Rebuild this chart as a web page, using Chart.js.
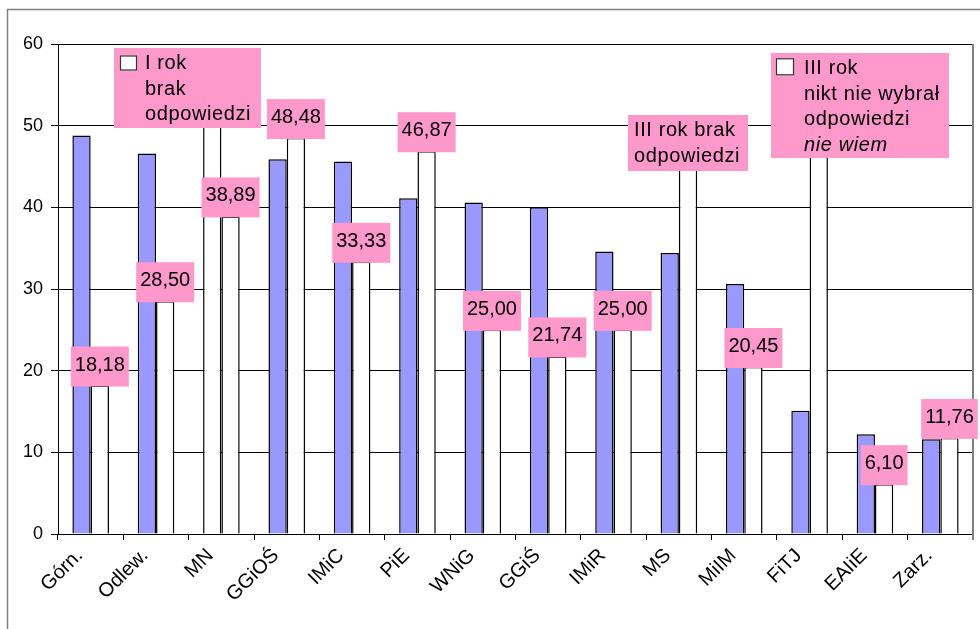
<!DOCTYPE html>
<html>
<head>
<meta charset="utf-8">
<script src="https://cdn.jsdelivr.net/npm/chart.js@4/dist/chart.umd.min.js"></script>
<style>
  html, body { margin: 0; padding: 0; background: #ffffff; }
  #wrap { width: 980px; height: 629px; position: relative; }
</style>
</head>
<body>
<div id="wrap"><canvas id="chart" width="980" height="629"></canvas></div>
<script>
// Faculties (categories on the x axis)
const categories = ['Górn.', 'Odlew.', 'MN', 'GGiOŚ', 'IMiC', 'PiE', 'WNiG', 'GGiŚ', 'IMiR', 'MS', 'MiIM', 'FiTJ', 'EAIiE', 'Zarz.'];

// I rok (blue bars), percent
const rok1 = [48.8, 46.6, null, 45.9, 45.6, 41.1, 40.6, 40.0, 34.6, 34.4, 30.6, 15.1, 12.2, 11.6];
// III rok (white bars, labelled), percent
const rok3 = [18.18, 28.50, 38.89, 48.48, 33.33, 46.87, 25.00, 21.74, 25.00, null, 20.45, null, 6.10, 11.76];

// White stand-in bars where there is no answer; their tops run under the notes
const rok1Brak = [null, null, 55, null, null, null, null, null, null, null, null, null, null, null];
const rok3Brak = [null, null, null, null, null, null, null, null, null, 48, null, 52, null, null];

// Value axis ticks
const yTicks = [0, 10, 20, 30, 40, 50, 60];

// Text notes placed over the plot
const notes = [
  { lines: ['I rok', 'brak', 'odpowiedzi'], italic: [], swatch: true,
    from: 0.357, to: 2.606, top: 59.5, bottom: 49.7, textX: 31, sw: [6, 7.5, 17, 15] },
  { lines: ['III rok brak', 'odpowiedzi'], italic: [], swatch: false,
    from: 8.221, to: 10.057, top: 51.3, bottom: 44.5, textX: 6 },
  { lines: ['III rok', 'nikt nie wybrał', 'odpowiedzi', 'nie wiem'], italic: [3], swatch: true,
    from: 10.41, to: 13.13, top: 58.93, bottom: 46.07, textX: 33, sw: [5, 5.3, 18, 17] }
];

const FONT = 'Arial, "Liberation Sans", sans-serif';
const PINK = '#FF99CC';
const BLUE = '#9999FF';

Chart.defaults.font.family = FONT;
Chart.defaults.color = '#000000';

const fmt = v => v.toFixed(2).replace('.', ',');

// Outer frame and right edge of the plot area
const framePlugin = {
  id: 'frame',
  beforeDraw(chart) {
    const ctx = chart.ctx;
    ctx.save();
    ctx.fillStyle = '#ffffff';
    ctx.fillRect(0, 0, chart.width, chart.height);
    ctx.strokeStyle = '#808080';
    ctx.lineWidth = 1.5;
    ctx.beginPath();
    ctx.moveTo(7.5, chart.height);
    ctx.lineTo(7.5, 9.5);
    ctx.lineTo(chart.width, 9.5);
    ctx.stroke();
    ctx.restore();
  },
  afterDatasetsDraw(chart) {
    const ctx = chart.ctx;
    const a = chart.chartArea;
    ctx.save();
    ctx.strokeStyle = '#808080';
    ctx.lineWidth = 2;
    ctx.beginPath();
    ctx.moveTo(a.right, a.top);
    ctx.lineTo(a.right, a.bottom + 6);
    ctx.stroke();
    ctx.restore();
  }
};

// Pink value boxes above the III rok bars
const valueLabels = {
  id: 'valueLabels',
  afterDatasetsDraw(chart) {
    const ctx = chart.ctx;
    const meta = chart.getDatasetMeta(1);
    ctx.save();
    ctx.font = '20px ' + FONT;
    rok3.forEach((v, i) => {
      if (v == null) return;
      const bar = meta.data[i];
      const text = fmt(v);
      const w = ctx.measureText(text).width + 8;
      const h = 40;
      const bottom = bar.y + 1;
      ctx.fillStyle = PINK;
      ctx.fillRect(bar.x - w / 2, bottom - h, w, h);
      ctx.fillStyle = '#000000';
      ctx.textAlign = 'center';
      ctx.textBaseline = 'alphabetic';
      ctx.fillText(text, bar.x, bottom - 16);
    });
    ctx.restore();
  }
};

// Explanatory notes
const notesPlugin = {
  id: 'notes',
  afterDraw(chart) {
    const ctx = chart.ctx;
    const xs = chart.scales.x, ys = chart.scales.y;
    ctx.save();
    notes.forEach(n => {
      const x0 = Math.round(xs.getPixelForValue(n.from));
      const x1 = Math.round(xs.getPixelForValue(n.to));
      const y0 = Math.round(ys.getPixelForValue(n.top));
      const y1 = Math.round(ys.getPixelForValue(n.bottom));
      ctx.fillStyle = PINK;
      ctx.fillRect(x0, y0, x1 - x0, y1 - y0);
      if (n.swatch) {
        const [sx, sy, sw, sh] = n.sw;
        ctx.fillStyle = '#ffffff';
        ctx.fillRect(x0 + sx, y0 + sy, sw, sh);
        ctx.strokeStyle = '#333333';
        ctx.lineWidth = 1.2;
        ctx.strokeRect(x0 + sx + 0.5, y0 + sy + 0.5, sw - 1, sh - 1);
      }
      ctx.fillStyle = '#000000';
      ctx.textAlign = 'left';
      ctx.textBaseline = 'alphabetic';
      if ('letterSpacing' in ctx) ctx.letterSpacing = '0.6px';
      n.lines.forEach((line, k) => {
        ctx.font = (n.italic.includes(k) ? 'italic ' : '') + '20px ' + FONT;
        ctx.fillText(line, x0 + n.textX, y0 + 21 + k * 25.5);
      });
      if ('letterSpacing' in ctx) ctx.letterSpacing = '0px';
    });
    ctx.restore();
  }
};

new Chart(document.getElementById('chart'), {
  type: 'bar',
  data: {
    labels: categories,
    datasets: [
      {
        label: 'I rok',
        data: rok1.map((v, i) => v ?? rok1Brak[i]),
        backgroundColor: rok1.map(v => v == null ? '#FFFFFF' : BLUE),
        borderColor: '#000000',
        borderWidth: 1.5,
        barPercentage: 1,
        categoryPercentage: 0.56
      },
      {
        label: 'III rok',
        data: rok3.map((v, i) => v ?? rok3Brak[i]),
        backgroundColor: '#FFFFFF',
        borderColor: '#000000',
        borderWidth: 1.5,
        barPercentage: 1,
        categoryPercentage: 0.56
      }
    ]
  },
  options: {
    responsive: false,
    animation: false,
    devicePixelRatio: 1,
    layout: { padding: { left: 0, top: 44, right: 7, bottom: 0 } },
    plugins: { legend: { display: false }, tooltip: { enabled: false } },
    scales: {
      x: {
        offset: true,
        grid: { drawOnChartArea: false, drawTicks: true, tickLength: 6, color: '#000000', offset: true },
        border: { color: '#000000', width: 1 },
        ticks: { font: { size: 20 }, color: '#000000', minRotation: 45, maxRotation: 45, autoSkip: false, padding: 4, labelOffset: -11 },
        afterFit(s) { s.height = 95; }
      },
      y: {
        min: 0, max: 60,
        afterBuildTicks(s) { s.ticks = yTicks.map(v => ({ value: v })); },
        ticks: { font: { size: 18 }, color: '#000000', padding: 8 },
        grid: { color: '#000000', tickLength: 7 },
        border: { color: '#000000', width: 1 },
        afterFit(s) { s.width = 58; }
      }
    }
  },
  plugins: [framePlugin, valueLabels, notesPlugin]
});
</script>
</body>
</html>
